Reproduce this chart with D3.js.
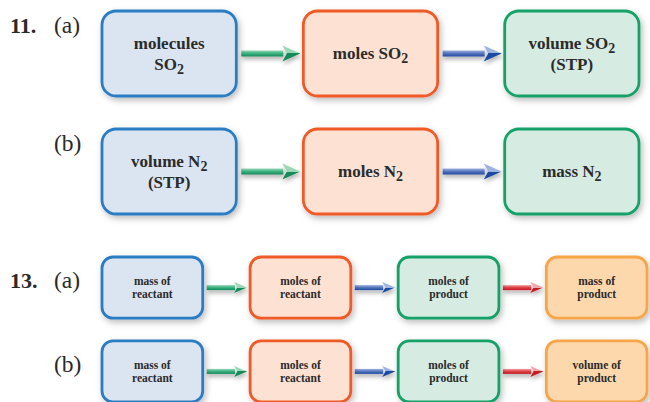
<!DOCTYPE html>
<html><head><meta charset="utf-8">
<script src="https://cdn.jsdelivr.net/npm/d3@7"></script>
<style>body{margin:0;background:#fff;}</style>
</head><body>
<svg id="c" width="650" height="402"></svg>
<script>
// ---- data ----
const problemNumbers = ["11.", "13."];
const partLabels = ["(a)", "(b)"];
const steps11a = ["molecules|SO_2", "moles SO_2", "volume SO_2|(STP)"];
const steps11b = ["volume N_2|(STP)", "moles N_2", "mass N_2"];
const steps13a = ["mass of|reactant", "moles of|reactant", "moles of|product", "mass of|product"];
const steps13b = ["mass of|reactant", "moles of|reactant", "moles of|product", "volume of|product"];
const boxThemes = ["blue", "orange", "green", "peach"];
const arrowThemes = ["green", "blue", "red"];

// ---- styles ----
const boxStyle = {
  blue:   {fill: "#dbe5f2", stroke: "#2c7cc3"},
  orange: {fill: "#fde2d3", stroke: "#f05a27"},
  green:  {fill: "#d6ebe2", stroke: "#17a169"},
  peach:  {fill: "#fdd8ac", stroke: "#f7a54a"}
};
const arrowStyle = {
  green: {light: "#9ad8b8", mid: "#3fb485", dark: "#138a58"},
  blue:  {light: "#9fb3e0", mid: "#5a78c0", dark: "#1f4aa0"},
  red:   {light: "#f3a6a8", mid: "#e0464c", dark: "#c41a24"}
};

const svg = d3.select("#c");
const defs = svg.append("defs");
const f = defs.append("filter").attr("id", "sh").attr("x", "-20%").attr("y", "-20%").attr("width", "150%").attr("height", "160%");
f.append("feDropShadow").attr("dx", 2).attr("dy", 3).attr("stdDeviation", 3).attr("flood-color", "#000").attr("flood-opacity", 0.26);
const fa = defs.append("filter").attr("id", "sha").attr("x", "-20%").attr("y", "-50%").attr("width", "150%").attr("height", "250%");
fa.append("feDropShadow").attr("dx", 1).attr("dy", 3).attr("stdDeviation", 2).attr("flood-color", "#000").attr("flood-opacity", 0.3);

Object.entries(arrowStyle).forEach(([k, c]) => {
  const g = defs.append("linearGradient").attr("id", "ag-" + k).attr("x1", 0).attr("y1", 0).attr("x2", 0).attr("y2", 1);
  g.append("stop").attr("offset", "0%").attr("stop-color", c.light);
  g.append("stop").attr("offset", "45%").attr("stop-color", c.mid);
  g.append("stop").attr("offset", "100%").attr("stop-color", c.dark);
  const gh = defs.append("linearGradient").attr("id", "ah-" + k).attr("x1", 0).attr("y1", 0).attr("x2", 0).attr("y2", 1);
  gh.append("stop").attr("offset", "0%").attr("stop-color", c.light);
  gh.append("stop").attr("offset", "50%").attr("stop-color", c.light);
  gh.append("stop").attr("offset", "50%").attr("stop-color", c.dark);
  gh.append("stop").attr("offset", "100%").attr("stop-color", c.dark);
});

const FONT = "'Liberation Serif', 'DejaVu Serif', serif";

function writeLabel(textSel, str) {
  const parts = str.split("_");
  textSel.append("tspan").text(parts[0]);
  if (parts.length > 1) {
    textSel.append("tspan").attr("dy", "0.3em").attr("font-size", "0.82em").text(parts[1]);
  }
}

function drawSeries(opts) {
  const {rowsData, xRange, yRange, padX, padY, radius, fontSize, lineGap, arrow, num, numY} = opts;
  const nCols = rowsData[0].length;
  const x = d3.scaleBand().domain(d3.range(nCols)).range(xRange).paddingInner(padX);
  const y = d3.scaleBand().domain(d3.range(rowsData.length)).range(yRange).paddingInner(padY);

  svg.append("text").attr("x", 10).attr("y", y(0) + numY)
    .attr("font-family", FONT).attr("font-weight", "bold").attr("font-size", 22)
    .attr("fill", "#2a2a2a").text(num);

  rowsData.forEach((row, r) => {
    const top = y(r), h = y.bandwidth(), cy = top + h / 2;
    svg.append("text").attr("x", 54).attr("y", top + numY)
      .attr("font-family", FONT).attr("font-size", 23.5).attr("fill", "#2a2a2a").text(partLabels[r]);

    for (let i = 0; i < nCols - 1; i++) {
      const x0 = x(i) + x.bandwidth() + arrow.gapL;
      const x1 = x(i + 1) - arrow.gapR;
      const hx = x1 - arrow.head;
      const g = svg.append("g").attr("filter", "url(#sha)");
      g.append("rect").attr("x", x0).attr("y", cy - arrow.shaft / 2).attr("width", hx - x0 + 1).attr("height", arrow.shaft)
        .attr("fill", "url(#ag-" + arrowThemes[i] + ")");
      g.append("path").attr("d", `M${hx},${cy - arrow.hh / 2}L${x1},${cy}L${hx},${cy + arrow.hh / 2}L${hx + arrow.head * 0.25},${cy}Z`)
        .attr("fill", "url(#ah-" + arrowThemes[i] + ")");
    }

    row.forEach((lab, c) => {
      const st = boxStyle[boxThemes[c]];
      svg.append("rect").attr("x", x(c)).attr("y", top).attr("width", x.bandwidth()).attr("height", h)
        .attr("rx", radius).attr("ry", radius)
        .attr("fill", st.fill).attr("stroke", st.stroke).attr("stroke-width", 2.8)
        .attr("filter", "url(#sh)");
      const lines = lab.split("|");
      const cx = x(c) + x.bandwidth() / 2;
      lines.forEach((ln, k) => {
        const by = cy + (k - (lines.length - 1) / 2) * lineGap + fontSize * 0.33;
        const t = svg.append("text").attr("x", cx).attr("y", by).attr("text-anchor", "middle")
          .attr("font-family", FONT).attr("font-weight", "bold").attr("font-size", fontSize)
          .attr("fill", "#2b2b2b");
        writeLabel(t, ln);
      });
    });
  });
}

drawSeries({
  rowsData: [steps11a, steps11b], num: problemNumbers[0],
  xRange: [102, 639], yRange: [11, 214], padX: 0.333, padY: 0.28,
  radius: 14, fontSize: 17, lineGap: 21, numY: 22,
  arrow: {gapL: 5, gapR: 3, shaft: 6, head: 18, hh: 16}
});
drawSeries({
  rowsData: [steps13a, steps13b], num: problemNumbers[1],
  xRange: [102, 647], yRange: [257, 402], padX: 0.32, padY: 0.27,
  radius: 11, fontSize: 11.5, lineGap: 13, numY: 31,
  arrow: {gapL: 4, gapR: 3, shaft: 5, head: 13, hh: 11}
});
</script>
</body></html>
